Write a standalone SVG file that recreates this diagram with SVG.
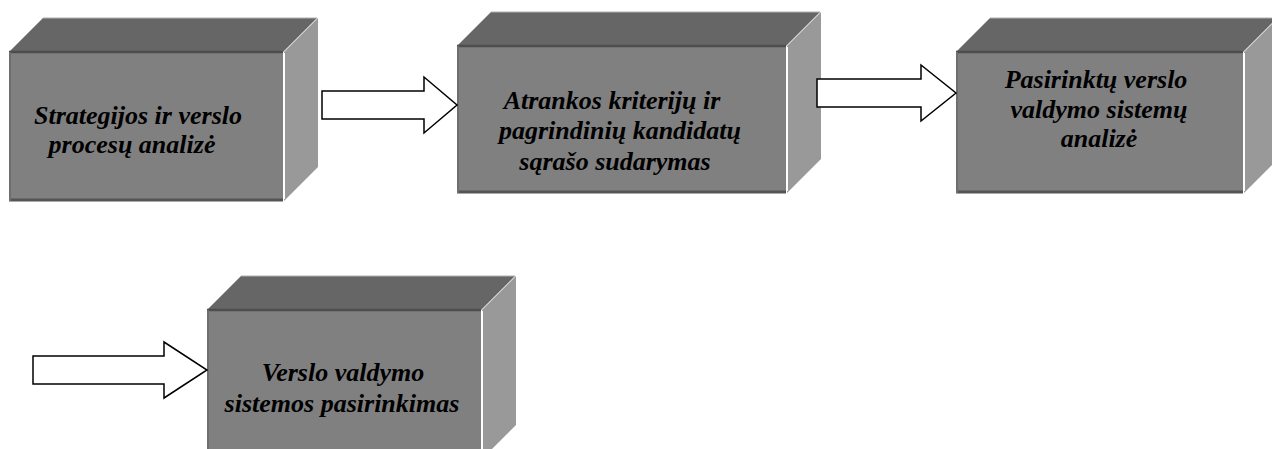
<svg xmlns="http://www.w3.org/2000/svg" width="1272" height="449" viewBox="0 0 1272 449">
<style>
.top{fill:#666666;stroke:#b0b0b0;stroke-width:1}
.side{fill:#999999}
.front{fill:#808080}
.edgeT{stroke:#4d4d4d;stroke-width:2.5}
.edgeB{stroke:#555555;stroke-width:3}
.edgeL{stroke:#6e6e6e;stroke-width:2}
.gap{stroke:#ffffff;stroke-width:2}
.lbl{font-family:"Liberation Serif","Times New Roman",serif;font-weight:bold;font-style:italic;font-size:26px;fill:#000;text-anchor:middle}
.arrow{fill:#ffffff;stroke:#000000;stroke-width:1.5;stroke-linejoin:miter}
</style>
<rect width="1272" height="449" fill="#ffffff"/>
<g id="node1">
<polygon class="top" points="9,52 43,18 317,18 283,52"/>
<polygon class="side" points="284,52 318,18 318,167 284,201"/>
<rect class="front" x="9" y="52" width="274" height="149"/>
<line class="edgeT" x1="9" y1="52" x2="283" y2="52"/>
<line class="edgeB" x1="9" y1="200" x2="283" y2="200"/>
<line class="edgeL" x1="10" y1="52" x2="10" y2="201"/>
<line class="gap" x1="284" y1="53" x2="284" y2="199"/>
<text class="lbl" x="138" y="124">Strategijos ir verslo</text>
<text class="lbl" x="132" y="153">procesų analizė</text>
</g>
<g id="node2">
<polygon class="top" points="457,46 491,12 820,12 786,46"/>
<polygon class="side" points="787,46 821,12 821,159 787,193"/>
<rect class="front" x="457" y="46" width="329" height="147"/>
<line class="edgeT" x1="457" y1="46" x2="786" y2="46"/>
<line class="edgeB" x1="457" y1="192" x2="786" y2="192"/>
<line class="edgeL" x1="458" y1="46" x2="458" y2="193"/>
<line class="gap" x1="787" y1="47" x2="787" y2="191"/>
<text class="lbl" x="612" y="109">Atrankos kriterijų ir</text>
<text class="lbl" x="620" y="139">pagrindinių kandidatų</text>
<text class="lbl" x="615" y="170">sąrašo sudarymas</text>
</g>
<g id="node3">
<polygon class="top" points="956,52 990,18 1277,18 1243,52"/>
<polygon class="side" points="1244,52 1278,18 1278,159 1244,193"/>
<rect class="front" x="956" y="52" width="287" height="141"/>
<line class="edgeT" x1="956" y1="52" x2="1243" y2="52"/>
<line class="edgeB" x1="956" y1="192" x2="1243" y2="192"/>
<line class="edgeL" x1="957" y1="52" x2="957" y2="193"/>
<line class="gap" x1="1244" y1="53" x2="1244" y2="191"/>
<text class="lbl" x="1096" y="88">Pasirinktų verslo</text>
<text class="lbl" x="1099" y="118">valdymo sistemų</text>
<text class="lbl" x="1099" y="147">analizė</text>
</g>
<g id="node4">
<polygon class="top" points="207,310 241,276 515,276 481,310"/>
<polygon class="side" points="482,310 516,276 516,425 482,459"/>
<rect class="front" x="207" y="310" width="274" height="149"/>
<line class="edgeT" x1="207" y1="310" x2="481" y2="310"/>
<line class="edgeL" x1="208" y1="310" x2="208" y2="459"/>
<line class="gap" x1="482" y1="311" x2="482" y2="459"/>
<text class="lbl" x="343" y="381">Verslo valdymo</text>
<text class="lbl" x="342" y="412">sistemos pasirinkimas</text>
</g>
<g id="connectors">
<polygon class="arrow" points="322,91 424,91 424,77 457,105 424,133 424,119 322,119"/>
<polygon class="arrow" points="817,79 921,79 921,65 956,93 921,121 921,107 817,107"/>
<polygon class="arrow" points="33,356 164,356 164,342 207,370 164,398 164,384 33,384"/>
</g>
</svg>
